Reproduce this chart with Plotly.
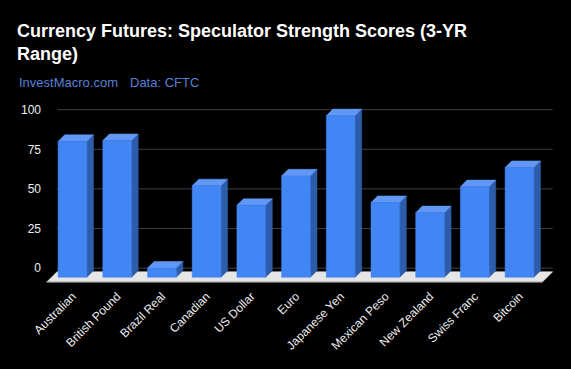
import plotly.graph_objects as go

# ---------------- data ----------------
categories = ["Australian", "British Pound", "Brazil Real", "Canadian", "US Dollar", "Euro",
              "Japanese Yen", "Mexican Peso", "New Zealand", "Swiss Franc", "Bitcoin"]
scores = [80, 80.5, 0, 52, 39.6, 58.2, 96.2, 41.4, 35, 51.4, 63.5]
y_ticks = [0, 25, 50, 75, 100]
y_tick_labels = ["0", "25", "50", "75", "100"]

title_text = "Currency Futures: Speculator Strength Scores (3-YR<br>Range)"
source_left = "InvestMacro.com"
source_right = "Data: CFTC"

# ---------------- geometry / style ----------------
W, H = 571, 369
PX_PER_CAT = 44.7
PX_PER_UNIT = 1.584
ZERO_PX = 268.1
FIRST_CAT_PX = 72.5
plot_l, plot_r, plot_t, plot_b = 42, 560, 98, 286

def px_to_x(px):
    return (px - FIRST_CAT_PX) / PX_PER_CAT

def px_to_y(py):
    return (ZERO_PX - py) / PX_PER_UNIT

x_range = [px_to_x(plot_l), px_to_x(plot_r)]
y_range = [px_to_y(plot_b), px_to_y(plot_t)]

half_w = 14.4 / PX_PER_CAT
dx = 6.6 / PX_PER_CAT
dy = 6.6 / PX_PER_UNIT
bar_base = px_to_y(277.3)

grid_x0 = px_to_x(57)
grid_x1 = px_to_x(552.7)
floor_back_y = px_to_y(271.7)
floor_front_y = px_to_y(282)
floor_shift = 10.3 / PX_PER_CAT

FRONT = "#4285f4"
TOP = "#6198f5"
SIDE = "#2d5caa"
GRID = "#3f3f3f"
FLOOR = "#e6e6e6"
FONT = "Liberation Sans, Arial, sans-serif"

fig = go.Figure()

# gridlines (back wall)
gx, gy = [], []
for t in y_ticks:
    gx += [grid_x0, grid_x1, None]
    gy += [t, t, None]
fig.add_trace(go.Scatter(x=gx, y=gy, mode="lines", line=dict(color=GRID, width=1),
                         hoverinfo="skip", showlegend=False))

# floor
fig.add_trace(go.Scatter(
    x=[grid_x0, grid_x1, grid_x1 - floor_shift, grid_x0 - floor_shift, grid_x0],
    y=[floor_back_y, floor_back_y, floor_front_y, floor_front_y, floor_back_y],
    mode="lines", fill="toself", fillcolor=FLOOR, line=dict(color=FLOOR, width=0.5),
    hoverinfo="skip", showlegend=False))
fig.add_trace(go.Scatter(
    x=[grid_x0 - floor_shift, grid_x1 - floor_shift], y=[floor_front_y, floor_front_y],
    mode="lines", line=dict(color="#9a9a9a", width=1.2), hoverinfo="skip", showlegend=False))

# bars (front, side, top faces)
fx, fy, sx, sy, tx, ty = [], [], [], [], [], []
for i, v in enumerate(scores):
    l, r = i - half_w, i + half_w
    fx += [l, r, r, l, l, None]
    fy += [bar_base, bar_base, v, v, bar_base, None]
    sx += [r, r + dx, r + dx, r, r, None]
    sy += [bar_base, bar_base + dy, v + dy, v, bar_base, None]
    tx += [l, r, r + dx, l + dx, l, None]
    ty += [v, v, v + dy, v + dy, v, None]

for xs, ys, col in [(sx, sy, SIDE), (tx, ty, TOP), (fx, fy, FRONT)]:
    fig.add_trace(go.Scatter(x=xs, y=ys, mode="lines", fill="toself", fillcolor=col,
                             line=dict(color=col, width=0.5), hoverinfo="skip",
                             showlegend=False))

fig.update_layout(
    width=W, height=H,
    paper_bgcolor="#000000", plot_bgcolor="#000000",
    margin=dict(l=plot_l, r=W - plot_r, t=plot_t, b=H - plot_b),
    title=dict(text="<b>" + title_text + "</b>", x=17 / W, xanchor="left", xref="container",
               y=1 - 37 / H, yanchor="top", yref="container",
               font=dict(family=FONT, size=18, color="#ffffff")),
    xaxis=dict(range=x_range, tickvals=list(range(len(categories))), ticktext=categories,
               tickangle=-45, showgrid=False, zeroline=False, showline=False, ticks="",
               tickfont=dict(family=FONT, size=12, color="#eeeeee"), fixedrange=True),
    yaxis=dict(range=y_range, tickvals=y_ticks, ticktext=y_tick_labels, showgrid=False,
               zeroline=False, showline=False, ticks="",
               tickfont=dict(family=FONT, size=12, color="#eeeeee"), fixedrange=True),
    annotations=[
        dict(text=source_left, xref="paper", yref="paper",
             x=(17 - plot_l) / (plot_r - plot_l), y=(plot_b - 82) / (plot_b - plot_t),
             xanchor="left", yanchor="middle", showarrow=False,
             font=dict(family=FONT, size=13, color="#5a7fd8")),
        dict(text=source_right, xref="paper", yref="paper",
             x=(128 - plot_l) / (plot_r - plot_l), y=(plot_b - 82) / (plot_b - plot_t),
             xanchor="left", yanchor="middle", showarrow=False,
             font=dict(family=FONT, size=13, color="#5a7fd8")),
    ],
)

fig.write_html("out.html", config={"displayModeBar": False},
               post_script="document.body.style.margin='0';document.body.style.background='#000';")
